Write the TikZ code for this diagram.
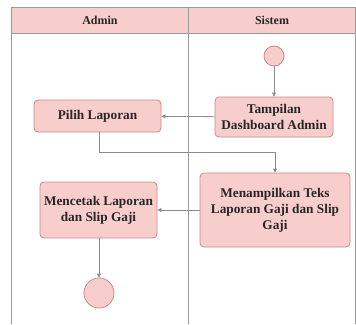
\documentclass[tikz,border=0pt]{standalone}
\usepackage{fontspec}
\setmainfont{Liberation Serif}
\usetikzlibrary{arrows.meta}
\definecolor{pinkfill}{HTML}{F8CECC}
\definecolor{pinkdraw}{HTML}{C98A88}
\definecolor{framegray}{HTML}{9A9A9A}
\definecolor{linegray}{HTML}{8C8C8C}
\tikzset{
  actbox/.style={draw=pinkdraw, fill=pinkfill, rounded corners=4pt, line width=0.8pt,
    align=center, inner sep=0pt, font=\fontsize{13.3}{16}\selectfont\bfseries, text=black!85},
  flow/.style={draw=linegray, line width=0.8pt, -{Triangle[length=4pt,width=4pt]}},
  hdr/.style={font=\fontsize{12}{14}\selectfont\bfseries, text=black!85},
}
\begin{document}
\begin{tikzpicture}[x=1pt,y=-1pt]
\useasboundingbox (0,0) rectangle (356,324);
% lanes
\fill[pinkfill] (11,7) rectangle (355,33);
\draw[framegray, line width=0.8pt] (11,324) -- (11,7) -- (355,7) -- (355,324);
\draw[framegray, line width=0.8pt] (11,33) -- (355,33);
\draw[framegray, line width=0.8pt] (188,7) -- (188,324);
\node[hdr] (hadmin) at (100,20) {Admin};
\node[hdr] (hsistem) at (272,20) {Sistem};
% start
\node[circle, draw=pinkdraw, fill=pinkfill, minimum size=20pt, inner sep=0pt, line width=0.8pt] (start) at (274,56) {};
% activities
\node[actbox, minimum width=127pt, minimum height=32pt] (pilih) at (97.5,116) {Pilih Laporan};
\node[actbox, minimum width=118pt, minimum height=40pt] (tampil) at (274,117) {Tampilan\\Dashboard Admin};
\node[actbox, minimum width=150pt, minimum height=74pt] (menampil) at (275,210) {Menampilkan Teks\\Laporan Gaji dan Slip\\Gaji};
\node[actbox, minimum width=117pt, minimum height=56pt] (cetak) at (98.5,210) {Mencetak Laporan\\dan Slip Gaji};
% end
\node[circle, draw=pinkdraw, fill=pinkfill, minimum size=30pt, inner sep=0pt, line width=0.8pt] (end) at (99,293) {};
% flows
\draw[flow] (start) -- (tampil);
\draw[flow] (tampil) -- (pilih);
\coordinate (bend1) at (99,152);
\coordinate (bend2) at (275,152);
\draw[flow] (pilih.south -| bend1) -- (bend1) -- (bend2) -- (menampil.north);
\draw[flow] (menampil.west |- cetak.east) -- (cetak.east);
\draw[flow] (cetak.south -| end) -- (end);
\end{tikzpicture}
\end{document}
